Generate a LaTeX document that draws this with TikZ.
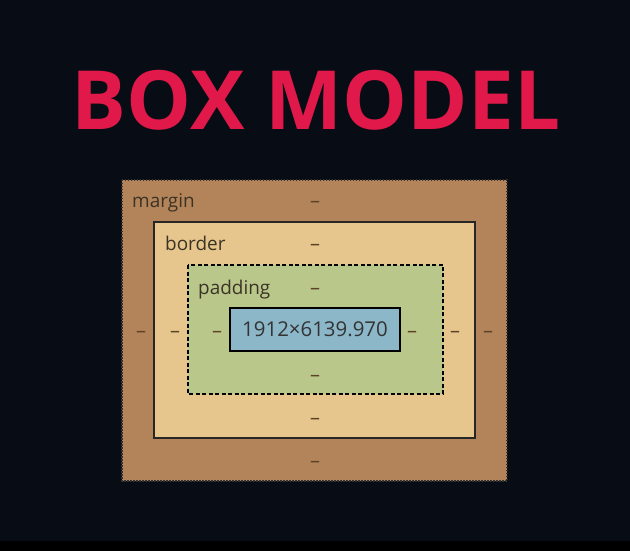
\documentclass[tikz,border=0pt]{standalone}
\usepackage{fontspec}
\setmainfont{Open Sans}
\definecolor{bg}{HTML}{080C14}
\definecolor{titlered}{HTML}{E0194A}
\definecolor{marginc}{HTML}{B3845A}
\definecolor{borderc}{HTML}{E6C68C}
\definecolor{paddingc}{HTML}{BAC78B}
\definecolor{contentc}{HTML}{8CB7C9}
\definecolor{labelc}{HTML}{3B3325}
\definecolor{dashc}{HTML}{5C4328}
\tikzset{
  lbl/.style={anchor=base west, inner sep=0pt, text=labelc, font=\fontsize{19}{22}\selectfont},
  dsh/.style={anchor=base, inner sep=0pt, text=dashc, font=\fontsize{20}{22}\selectfont},
}
\begin{document}
\begin{tikzpicture}[x=1bp,y=-1bp]
\fill[bg] (0,0) rectangle (630,551);
\fill[black] (0,541) rectangle (630,551);
\useasboundingbox (0,0) rectangle (630,551);
\node[text=titlered, font=\fontsize{82}{90}\bfseries\selectfont, inner sep=0pt] (title) at (316,100) {BOX MODEL};
% margin
\fill[marginc] (122,180) rectangle (507,481);
\draw[draw=black!80, dash pattern=on 1.5bp off 1.5bp, line width=1.4bp] (122,180) rectangle (507,481);
\draw[fill=borderc, draw=black!85, line width=1.8pt] (154,222) rectangle (475,438);
\draw[fill=paddingc, draw=black, dash pattern=on 4bp off 2.5bp, line width=1.5bp] (188,265) rectangle (443,394);
\node[draw=black, fill=contentc, line width=1.6pt, minimum width=170bp, minimum height=43bp, inner sep=0pt, text=black!80, font=\fontsize{20.5}{22}\selectfont] (content) at (315,329.5) {1912×6139.970};
\node[lbl] (lm) at (132,208) {margin};
\node[lbl] (lb) at (165,251) {border};
\node[lbl] (lp) at (198,294) {padding};
\foreach \y/\n in {208/mt,251/bt,294/pt,381/pb,424/bb,467/mb}
  \node[dsh] (\n) at (315,\y) {–};
\foreach \x/\n in {141/ml,175/bl,217/pl,412/pr,455/br,488/mr}
  \node[dsh] (\n) at (\x,337) {–};
\end{tikzpicture}
\end{document}
